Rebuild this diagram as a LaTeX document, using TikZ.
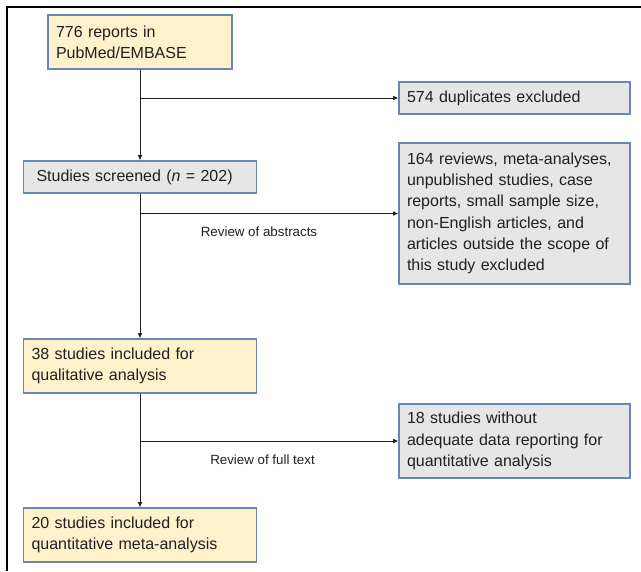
\documentclass[tikz,border=0pt]{standalone}
\usepackage{fontspec}
\setmainfont{Liberation Sans}
\usepackage{tikz}
\usetikzlibrary{arrows.meta,positioning}
\definecolor{byellow}{HTML}{FEF2CC}
\definecolor{bgray}{HTML}{E6E6E6}
\definecolor{bedge}{HTML}{6A86B8}
\definecolor{ink}{HTML}{231F20}

\begin{document}
\begin{tikzpicture}[x=0.75pt,y=-0.75pt,
every node/.style={font=\fontsize{12}{16}\selectfont,text=ink},
box/.style={draw=bedge,line width=0.8pt,inner xsep=6pt,inner ysep=0pt,align=left},
inbox/.style={box,fill=byellow,text width=162.75pt,minimum height=40.5pt},
exbox/.style={box,fill=bgray,text width=161.25pt},
flow/.style={draw=ink,line width=0.7pt,-{Latex[length=4pt,width=3.5pt]}},
note/.style={font=\fontsize{10}{12}\selectfont}]
\useasboundingbox (0,0) rectangle (641,571);
\draw[line width=1.5pt] (7,571) -- (7,7) -- (641,7);
\node[inbox,text width=126pt] (rep) at (140,42) {776 reports in\\PubMed/EMBASE};
\node[box,fill=bgray,inner xsep=9.75pt,text width=155.25pt,minimum height=24pt] (scr) at (140,177) {Studies screened (\textit{n} = 202)};
\node[inbox] (qual) at (140,366) {38 studies included for\\qualitative analysis};
\node[inbox] (quant) at (140,535) {20 studies included for\\quantitative meta-analysis};
\node[exbox,minimum height=24pt] (dup) at (514.5,98) {574 duplicates excluded};
\node[exbox,minimum height=105.75pt] (rev) at (514.5,213.5) {164 reviews, meta-analyses,\\unpublished studies, case\\reports, small sample size,\\non-English articles, and\\articles outside the scope of\\this study excluded};
\node[exbox,minimum height=55.5pt] (inad) at (514.5,441) {18 studies without\\adequate data reporting for\\quantitative analysis};
\node[note] (abs) at (259,232) {Review of abstracts};
\node[note] (full) at (262.5,460) {Review of full text};
\draw[flow] (rep) -- (scr);
\draw[flow] (scr) -- (qual);
\draw[flow] (qual) -- (quant);
\draw[flow] (rep |- dup) -- (dup);
\draw[flow] (scr |- rev) -- (rev);
\draw[flow] (qual |- inad) -- (inad);
\end{tikzpicture}
\end{document}
